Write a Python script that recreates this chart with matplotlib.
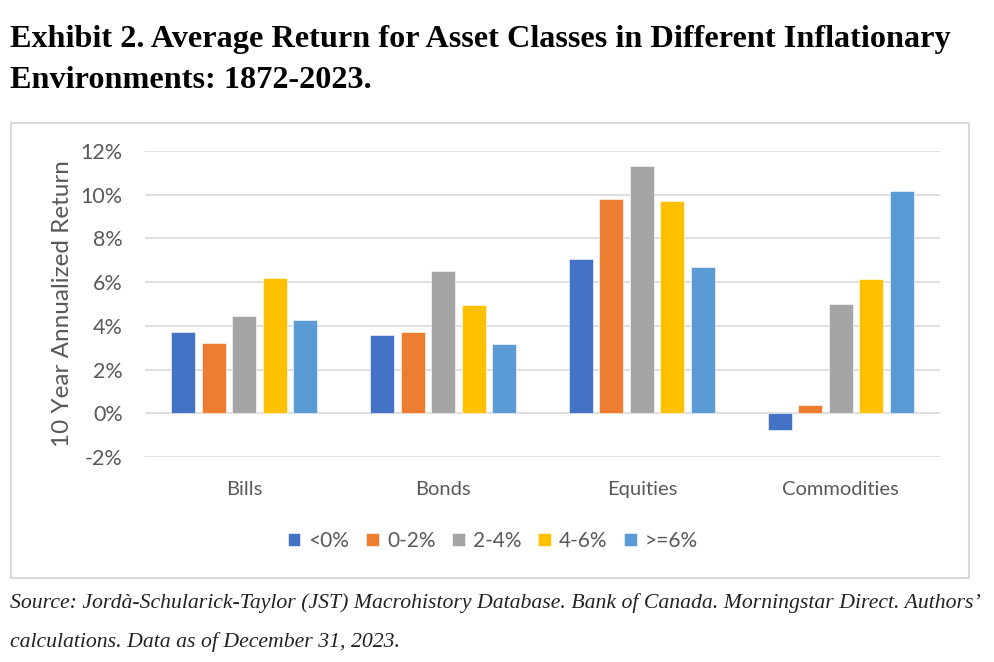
import matplotlib
matplotlib.use("Agg")
import matplotlib.pyplot as plt
from matplotlib.patches import Rectangle
import numpy as np

categories = ["Bills", "Bonds", "Equities", "Commodities"]
series_names = ["<0%", "0-2%", "2-4%", "4-6%", ">=6%"]
lt0 = [3.74, 3.60, 7.08, -0.77]
r0_2 = [3.23, 3.74, 9.81, 0.37]
r2_4 = [4.43, 6.49, 11.30, 4.98]
r4_6 = [6.17, 4.97, 9.70, 6.13]
ge6 = [4.27, 3.18, 6.67, 10.18]
series_values = [lt0, r0_2, r2_4, r4_6, ge6]
colors = ["#4472C4", "#ED7D31", "#A5A5A5", "#FFC000", "#5B9BD5"]
yticks = [-2, 0, 2, 4, 6, 8, 10, 12]
ytick_labels = ["-2%", "0%", "2%", "4%", "6%", "8%", "10%", "12%"]

title_lines = ["Exhibit 2. Average Return for Asset Classes in Different Inflationary",
               "Environments: 1872-2023."]
caption_lines = ["Source: Jordà-Schularick-Taylor (JST) Macrohistory Database. Bank of Canada. Morningstar Direct. Authors\u2019",
                 "calculations. Data as of December 31, 2023."]

W, H = 995, 662
fig = plt.figure(figsize=(W / 100, H / 100), dpi=100)
fig.patch.set_facecolor("white")

def fx(px):
    return px / W

def fy(py):
    return 1 - py / H

# chart frame
fig.add_artist(Rectangle((fx(11), fy(578)), fx(969) - fx(11), fy(123) - fy(578),
                         transform=fig.transFigure, fill=False, edgecolor="#D9D9D9", lw=1.5))

ax = fig.add_axes([fx(145), fy(457), fx(940) - fx(145), fy(151) - fy(457)])
x = np.arange(len(categories))
pitch = 0.1535
width = 0.121
for i, (name, vals, c) in enumerate(zip(series_names, series_values, colors)):
    ax.bar(x + (i - 2) * pitch, vals, width=width, color=c, label=name, zorder=3,
           edgecolor="white", linewidth=0.4)

ax.set_xlim(-0.5, len(categories) - 0.5)
ax.set_ylim(-2, 12)
ax.set_yticks(yticks)
ax.set_yticklabels(ytick_labels)
ax.set_xticks(x)
ax.set_xticklabels(categories)
for s in ax.spines.values():
    s.set_visible(False)
ax.grid(axis="y", color="#D9D9D9", lw=1.2, zorder=0)
ax.tick_params(axis="both", length=0, colors="#595959")
ax.tick_params(axis="y", pad=16, labelsize=15.5)
ax.tick_params(axis="x", pad=17.5, labelsize=14.5)
for lab in ax.get_xticklabels() + ax.get_yticklabels():
    lab.set_fontfamily("Lato")

fig.text(fx(63), (fy(151) + fy(457)) / 2, "10 Year Annualized Return", rotation=90,
         ha="center", va="center", fontsize=17.5, color="#595959", family="Lato")

leg = fig.legend(loc="center", bbox_to_anchor=(fx(493), fy(541)), ncol=5, frameon=False,
                 prop={"family": "Lato", "size": 15}, handlelength=0.6, handleheight=0.6,
                 handletextpad=0.4, columnspacing=0.8, labelcolor="#595959")

# titles and captions
renderer = fig.canvas.get_renderer()

def fit_text(s, xpx, ypx, target_w, **kw):
    t = fig.text(fx(xpx), fy(ypx), s, ha="left", va="baseline", **kw)
    wpx = t.get_window_extent(renderer).width
    t.set_fontsize(t.get_fontsize() * target_w / wpx)
    return t

t1 = fit_text(title_lines[0], 10, 47, 940, family="Liberation Serif", weight="bold", fontsize=20, color="black")
fs = t1.get_fontsize()
fig.text(fx(10), fy(88), title_lines[1], ha="left", va="baseline", family="Liberation Serif",
         weight="bold", fontsize=fs, color="black")

c1 = fit_text(caption_lines[0], 10, 608, 975, family="Liberation Serif", style="italic", fontsize=14, color="#222222")
fig.text(fx(10), fy(647), caption_lines[1], ha="left", va="baseline", family="Liberation Serif",
         style="italic", fontsize=c1.get_fontsize(), color="#222222")

fig.savefig("out.png", dpi=100)
